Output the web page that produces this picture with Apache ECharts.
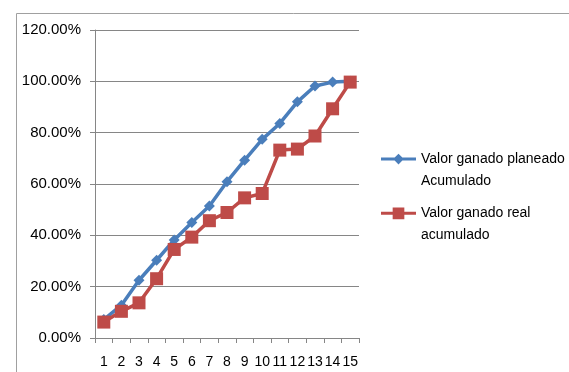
<!DOCTYPE html>
<html><head><meta charset="utf-8">
<script src="https://cdn.jsdelivr.net/npm/echarts@6/dist/echarts.min.js"></script>
<style>html,body{margin:0;padding:0;background:#fff}#c{width:569px;height:372px}</style>
</head><body><div id="c"></div>
<script>
const categories = ['1','2','3','4','5','6','7','8','9','10','11','12','13','14','15'];
const planeado = [0.072, 0.128, 0.225, 0.303, 0.382, 0.450, 0.514, 0.609, 0.693, 0.774, 0.836, 0.920, 0.982, 0.997, 1.000];
const real = [0.062, 0.104, 0.137, 0.231, 0.345, 0.393, 0.457, 0.489, 0.546, 0.563, 0.732, 0.736, 0.787, 0.893, 0.997];
const seriesNames = ['Valor ganado planeado\nAcumulado', 'Valor ganado real\nacumulado'];
const yTicks = [0, 0.2, 0.4, 0.6, 0.8, 1.0, 1.2];

const font = 'Liberation Sans';
const chart = echarts.init(document.getElementById('c'), null, {renderer: 'canvas'});
chart.setOption({
  animation: false,
  textStyle: {fontFamily: font},
  graphic: [{type: 'rect', shape: {x: 16.5, y: 13.5, width: 600, height: 400}, style: {fill: 'none', stroke: '#a0a0a0', lineWidth: 1}, silent: true}],
  grid: {left: 95, right: 210, top: 30, bottom: 34, containLabel: false},
  legend: {
    orient: 'vertical', left: 381, top: 148, padding: 0, itemGap: 10, itemWidth: 35, itemHeight: 34,
    textStyle: {fontFamily: font, fontSize: 14, color: '#000', lineHeight: 22},
    data: [
      {name: seriesNames[0], icon: 'path://M0,4.5 L14,4.5 L18,0.5 L22,4.5 L36,4.5 L36,7.5 L22,7.5 L18,11.5 L14,7.5 L0,7.5 Z M0,34 L0.001,34 Z'},
      {name: seriesNames[1], icon: 'path://M0,4.5 L12,4.5 L12,0 L24,0 L24,4.5 L36,4.5 L36,7.5 L24,7.5 L24,12 L12,12 L12,7.5 L0,7.5 Z M0,34 L0.001,34 Z'}
    ]
  },
  xAxis: {
    type: 'category', data: categories, boundaryGap: true,
    axisLine: {lineStyle: {color: '#868686', width: 1}},
    axisTick: {show: true, length: 5, inside: false, lineStyle: {color: '#868686'}},
    axisLabel: {color: '#000', fontSize: 14, fontFamily: font, margin: 17, interval: 0}
  },
  yAxis: {
    type: 'value', min: 0, max: 1.2, interval: 0.2,
    axisLine: {show: true, lineStyle: {color: '#868686', width: 1}},
    axisTick: {show: true, length: 5, lineStyle: {color: '#868686'}},
    splitLine: {lineStyle: {color: '#868686', width: 1}},
    axisLabel: {color: '#000', fontSize: 15, fontFamily: font, margin: 14,
      formatter: v => (v * 100).toFixed(2) + '%'}
  },
  series: [
    {name: seriesNames[0], type: 'line', data: planeado, symbol: 'diamond', symbolSize: 11,
     lineStyle: {color: '#4a7ebb', width: 3.5}, itemStyle: {color: '#4a7ebb'}, z: 2},
    {name: seriesNames[1], type: 'line', data: real, symbol: 'rect', symbolSize: 13,
     lineStyle: {color: '#be4b48', width: 3.5}, itemStyle: {color: '#be4b48'}, z: 3}
  ]
});
</script></body></html>
